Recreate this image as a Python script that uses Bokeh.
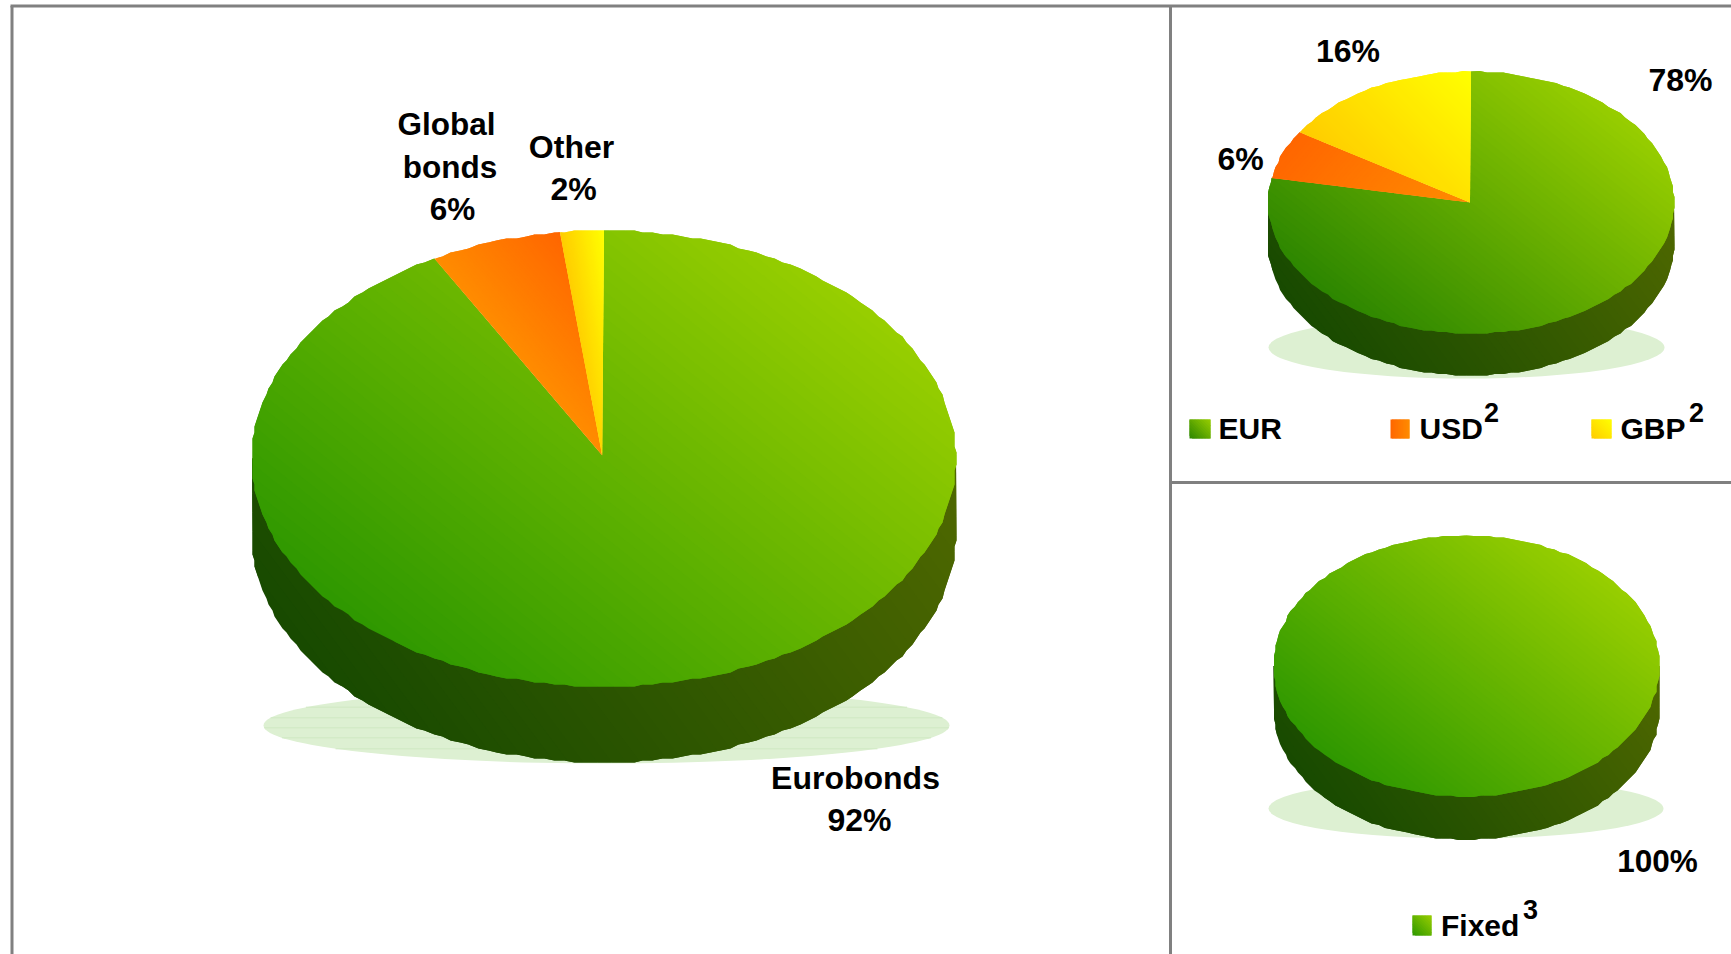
import numpy as np
from bokeh.core.properties import value
from bokeh.embed import file_html
from bokeh.models import ColumnDataSource, Range1d
from bokeh.plotting import figure
from bokeh.resources import INLINE

# Structure of the bond portfolio, in percent
instrument_names = ["Eurobonds", "Global bonds", "Other"]
instrument_shares = [92, 6, 2]
currency_names = ["EUR", "USD", "GBP"]
currency_shares = [78, 6, 16]
rate_names = ["Fixed"]
rate_shares = [100]

FONT = "Liberation Sans"
GREEN = ("#2E9800", "#98CE00")
GREEN_DIM = ("#2C8600", "#98CE00")
ORANGE = ("#FF8C00", "#FF6600")
YELLOW = ("#FFCC00", "#FFFF00")
WALL = ("#174A00", "#506800")
SHADOW = "#DDF0D2"
STRIPE = "#CFE8C2"
BORDER = "#808080"
STEPS = 56
LIGHT_FROM = (0.62, -0.78)

p = figure(width=1731, height=954, output_backend="svg", toolbar_location=None,
           x_range=Range1d(0, 1731), y_range=Range1d(954, 0),
           x_axis_location=None, y_axis_location=None,
           min_border=0, outline_line_color=None)
p.grid.visible = False


def hex_rgb(c):
    return np.array([int(c[i:i + 2], 16) for i in (1, 3, 5)], dtype=float)


def clip(xs, ys, d, limit, keep_above):
    """Clip a polygon against the half-plane along direction d."""
    t = xs * d[0] + ys * d[1] - limit
    if not keep_above:
        t = -t
    out_x, out_y = [], []
    n = len(xs)
    for i in range(n):
        j = (i + 1) % n
        if t[i] >= 0:
            out_x.append(xs[i])
            out_y.append(ys[i])
        if (t[i] >= 0) != (t[j] >= 0):
            k = t[i] / (t[i] - t[j])
            out_x.append(xs[i] + k * (xs[j] - xs[i]))
            out_y.append(ys[i] + k * (ys[j] - ys[i]))
    return np.array(out_x), np.array(out_y)


def shaded(xs, ys, colors, direction=LIGHT_FROM, steps=STEPS):
    """Fill a polygon with a linear two-colour ramp built from overlapping bands."""
    xs, ys = np.asarray(xs, float), np.asarray(ys, float)
    d = np.array(direction, float)
    d = d / np.hypot(*d)
    proj = xs * d[0] + ys * d[1]
    t0, t1 = proj.min(), proj.max()
    c0, c1 = hex_rgb(colors[0]), hex_rgb(colors[1])
    edges = np.linspace(t0, t1, steps + 1)
    bx, by, fills = [], [], []
    for k in range(steps):
        x1, y1 = clip(xs, ys, d, edges[k], True)
        if len(x1) == 0:
            continue
        top = edges[min(k + 2, steps)] + 0.01
        x2, y2 = clip(x1, y1, d, top, False)
        if len(x2) < 3:
            continue
        mix = c0 + (c1 - c0) * (k + 0.5) / steps
        bx.append(x2.tolist())
        by.append(y2.tolist())
        fills.append("#%02X%02X%02X" % tuple(int(round(v)) for v in mix))
    src = ColumnDataSource(dict(xs=bx, ys=by, fill=fills))
    p.patches("xs", "ys", source=src, fill_color="fill", line_color=None)


def facet(v, grid):
    """Snap outline vertices to a coarse grid, the faceted edge of a low-res pie."""
    return np.round(np.asarray(v) / grid) * grid


def pie(cx, cy, rx, ry, depth, shares, palette, directions, apex=(0.0, 0.0), grid=2.0, facets=224):
    """Tilted pie: wall first, then slices clockwise from twelve o'clock."""
    a = np.linspace(0, np.pi, facets // 2 + 1)
    wx = facet(cx + rx * np.cos(a), grid)
    wy = facet(cy + ry * np.sin(a), grid)
    # The wall's upper edge runs under the top face so that no gap opens between them
    ix = cx + 0.97 * rx * np.cos(a)
    iy = cy + 0.97 * ry * np.sin(a)
    shaded(np.r_[cx + rx, ix, cx - rx, wx[::-1]], np.r_[cy, iy, cy, wy[::-1] + depth], WALL, (0.8, -0.6))
    fractions = np.cumsum([0] + list(shares)) / sum(shares)
    ring = np.linspace(0, 2 * np.pi, facets + 1)
    for i, share in enumerate(shares):
        start, stop = fractions[i] * 2 * np.pi, fractions[i + 1] * 2 * np.pi
        inner = ring[(ring > start + 1e-6) & (ring < stop - 1e-6)]
        th = np.r_[start, inner, stop]
        sx = cx + rx * np.sin(th)
        sy = cy - ry * np.cos(th)
        sx[1:-1], sy[1:-1] = facet(sx[1:-1], grid), facet(sy[1:-1], grid)
        if share < sum(shares):
            sx = np.r_[cx + apex[0], sx]
            sy = np.r_[cy + apex[1], sy]
        shaded(sx, sy, palette[i], directions[i])


def shadow(cx, cy, rx, ry, stripes=()):
    p.ellipse([cx], [cy], width=[2 * rx], height=[2 * ry],
              fill_color=SHADOW, line_color=None)
    if len(stripes):
        half = rx * np.sqrt(1 - ((np.array(stripes) - cy) / ry) ** 2)
        p.segment(cx - half, stripes, cx + half, stripes, line_color=STRIPE, line_width=1)


def labels(xs, ys, texts, size="30px", align="center"):
    p.text(xs, ys, text=texts, text_font=value(FONT), text_font_style="bold",
           text_font_size=value(size), text_color="#000000",
           text_align=align, text_baseline="middle")


def swatch(x, y, w, h, colors, direction=(0.707, -0.707)):
    shaded([x, x + w, x + w, x], [y, y, y + h, y + h], colors, direction, steps=14)


# Panel rules
p.segment([10, 1170, 1170, 11.5], [5.5, 5.5, 482, 5.5], [1731, 1170, 1731, 11.5], [5.5, 954, 482, 954],
          line_color=BORDER, line_width=3)

# Left panel: instruments
shadow(606, 725, 343, 38, stripes=[706.7, 717.3, 727.3, 737.3, 748.3])
pie(603.5, 458, 352, 228, 76, instrument_shares, [GREEN, ORANGE, YELLOW],
    [LIGHT_FROM, (0.76, -0.65), (1, -0.15)], apex=(-1.8, -3))
labels([446, 449.5, 452], [123, 166, 208], ["Global", "bonds", f"{instrument_shares[1]}%"], "31.5px")
labels([571, 573], [146, 188], ["Other", f"{instrument_shares[2]}%"], "32px")
labels([855, 859], [777, 819], ["Eurobonds", f"{instrument_shares[0]}%"], "32px")

# Upper right panel: currencies
shadow(1466, 347, 198, 31)
pie(1470.5, 202, 203, 131, 42, currency_shares, [GREEN_DIM, ORANGE, YELLOW],
    [LIGHT_FROM, (-0.75, -0.65), (0.707, -0.707)], apex=(-1, 0), grid=1.5, facets=160)
labels([1680, 1240, 1347.5], [79, 158, 50],
       [f"{currency_shares[0]}%", f"{currency_shares[1]}%", f"{currency_shares[2]}%"], "32px")
swatch(1189, 419, 21, 19, GREEN_DIM)
swatch(1390, 419, 19, 19, ("#FF6600", "#FF8C00"), (1, 0))
swatch(1591, 419, 20, 19, YELLOW)
labels([1218, 1419, 1620], [427.5, 427.5, 427.5], currency_names, align="left")
labels([1491, 1696], [412, 412], ["2", "2"], "27px")

# Lower right panel: interest type
shadow(1465.5, 808, 197.5, 30)
pie(1466, 665.5, 193, 130.5, 43, rate_shares, [GREEN], [LIGHT_FROM], grid=1.5, facets=160)
labels([1657], [860.5], [f"{rate_shares[0]}%"], "31.5px")
swatch(1412, 915, 19, 20, GREEN)
labels([1440.5], [924.5], rate_names, align="left")
labels([1530], [909], ["3"], "27px")

open("out.html", "w").write(file_html(p, INLINE))
